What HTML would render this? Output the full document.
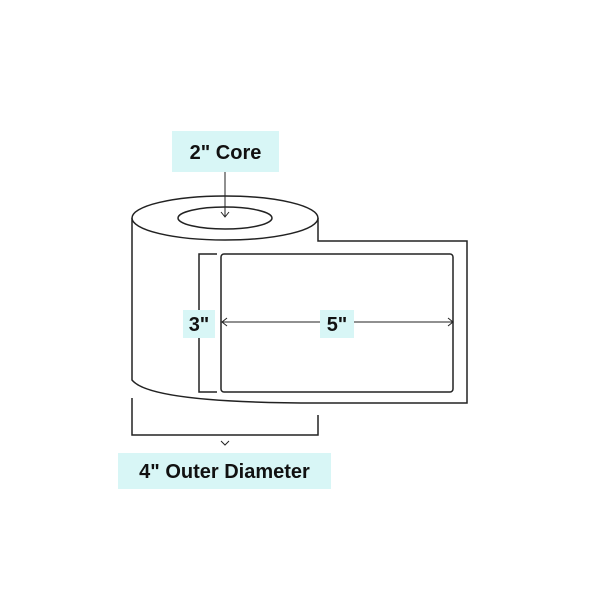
<!DOCTYPE html>
<html><head><style>body{margin:0;background:#fff}svg{display:block}text{font-family:"Liberation Sans",sans-serif;font-weight:bold;fill:#111}</style></head><body>
<svg width="600" height="600" viewBox="0 0 600 600" xmlns="http://www.w3.org/2000/svg">
<rect width="600" height="600" fill="#fff"/>
<g fill="none" stroke="#222" stroke-width="1.5">
<path d="M132 218 L132 380 Q150 403 318 403 L467 403 L467 241 L318 241 L318 218"/>
<ellipse cx="225" cy="218" rx="93" ry="22" fill="#fff"/>
<ellipse cx="225" cy="218" rx="47" ry="11"/>
<rect x="221" y="254" width="232" height="138" rx="3"/>
<path d="M217 254 H199 V392 H217"/>
<path d="M132 398 V435 H318 V415"/>
<path d="M225 172 V217 M221 212 L225 217 L229 212" stroke-width="1"/>
<path d="M222 322 H453 M227 318 L222 322 L227 326 M448 318 L453 322 L448 326" stroke-width="1"/>
<path d="M221 441 L225 445 L229 441" stroke-width="1"/>
</g>
<rect x="172" y="131" width="107" height="41" fill="#d8f6f6"/>
<text x="225.5" y="159" font-size="20" text-anchor="middle">2" Core</text>
<rect x="183" y="310" width="32" height="28" fill="#d8f6f6"/>
<text x="199" y="331" font-size="20" text-anchor="middle">3"</text>
<rect x="320" y="310" width="34" height="28" fill="#d8f6f6"/>
<text x="337" y="331" font-size="20" text-anchor="middle">5"</text>
<rect x="118" y="453" width="213" height="36" fill="#d8f6f6"/>
<text x="224.5" y="478" font-size="20" text-anchor="middle">4" Outer Diameter</text>
</svg>
</body></html>
